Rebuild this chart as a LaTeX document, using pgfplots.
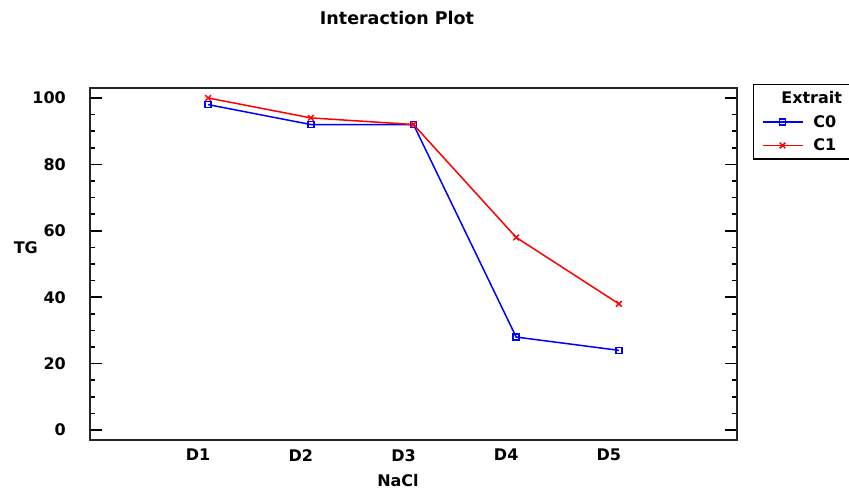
\documentclass[border=0pt]{standalone}
\usepackage{fontspec}
\setmainfont{DejaVu Sans}
\usepackage{pgfplots}
\pgfplotsset{compat=1.18}
\begin{document}
\begin{tikzpicture}[x=1pt,y=1pt]
\useasboundingbox (0,0) rectangle (849,491);
\begin{axis}[
  at={(90pt,51pt)}, anchor=south west,
  scale only axis, width=647pt, height=352pt,
  xmin=-0.15, xmax=6.15, ymin=-3, ymax=103,
  xtick={1,2,3,4,5}, xticklabels={D1,D2,D3,D4,D5},
  ytick={0,20,40,60,80,100},
  minor y tick num=3,
  /pgf/number format/assume math mode=true,
  font=\bfseries\fontsize{16}{16}\selectfont,
  tick align=inside,
  xtick style={draw=none},
  ytick pos=both,
  major tick length=12pt, minor tick length=5pt,
  every tick/.style={line width=1.5pt, black},
  axis line style={line width=1.5pt, black!85},
  yticklabel style={inner sep=0pt, xshift=-24pt, anchor=east},
  xticklabel style={inner sep=0pt, xshift=-10pt, yshift=-9pt, anchor=north},
  xlabel={NaCl}, ylabel={TG},
  xlabel style={at={(axis description cs:0.476,-0.1165)}, anchor=center, inner sep=0pt},
  ylabel style={at={(axis description cs:-0.0992,0.547)}, anchor=center, rotate=-90, inner sep=0pt},
  title={Interaction Plot},
  title style={at={(axis description cs:0.4745,1.182)}, anchor=center, inner sep=0pt, font=\bfseries\fontsize{17.5}{17.5}\selectfont},
  legend style={at={(axis description cs:1.0247,1.0114)}, anchor=north west,
    draw=black, line width=1.5pt, inner xsep=8pt, inner ysep=7pt,
    nodes={inner sep=0pt}, column sep=10pt, row sep=10pt,
    font=\bfseries\fontsize{16}{16}\selectfont},
  legend cell align=left,
  legend image code/.code={\draw[mark repeat=2,mark phase=2,line width=1.6pt] plot coordinates {(0pt,0pt) (20pt,0pt) (40pt,0pt)};},
]
\addlegendimage{empty legend}
\addlegendentry{\hspace*{-32pt}Extrait}
\addplot[blue, line width=1.5pt, mark=square, mark size=3pt, mark options={line width=1.5pt}]
  coordinates {(1,98) (2,92) (3,92) (4,28) (5,24)};
\addlegendentry{C0}
\addplot[red, line width=1.5pt, mark=x, mark size=4pt, mark options={line width=1.5pt}]
  coordinates {(1,100) (2,94) (3,92) (4,58) (5,38)};
\addlegendentry{C1}
\end{axis}
\end{tikzpicture}
\end{document}
